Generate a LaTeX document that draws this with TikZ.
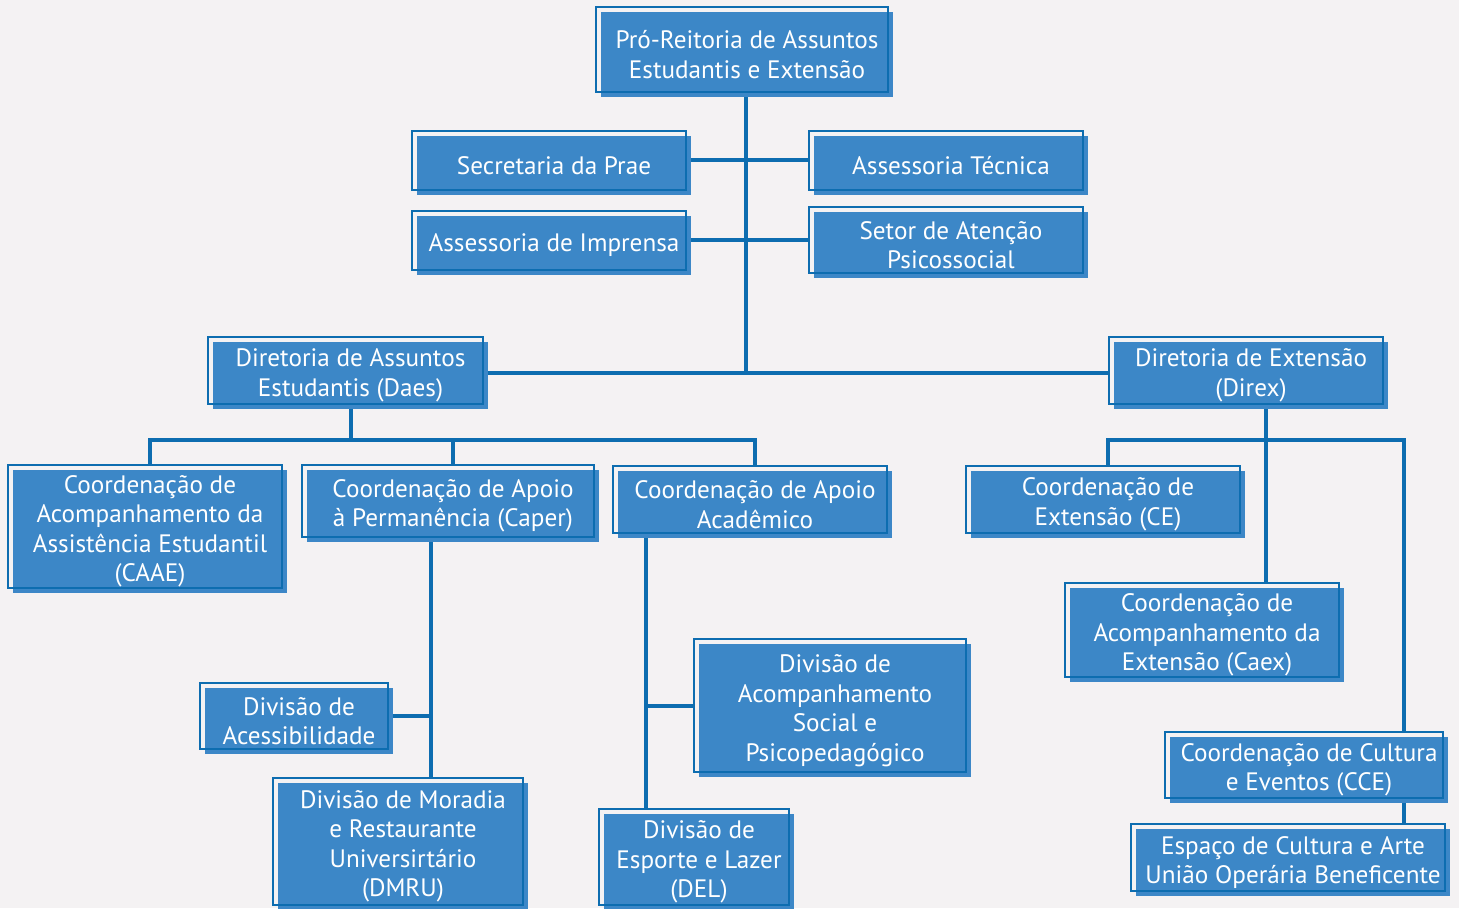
\documentclass[tikz,border=0pt]{standalone}
\usepackage{fontspec}
\setmainfont{PT Sans}
\usetikzlibrary{backgrounds}

\definecolor{pagebg}{HTML}{F4F2F3}
\definecolor{boxfill}{HTML}{3C87C7}
\definecolor{boxline}{HTML}{0D6DB0}

\begin{document}
\begin{tikzpicture}[x=1pt,y=-1pt]

\tikzset{
  orgbox/.style={fill=boxfill, text=white, inner sep=0pt, align=center,
    minimum width=274pt, minimum height=67pt,
    font=\fontsize{25.2}{29.5}\selectfont,
    postaction={draw=boxline, line width=1.8pt, fill=none,
      transform canvas={shift={(-5pt,5pt)}}}},
  link/.style={draw=boxline, line width=3.8pt}
}

\useasboundingbox (0,0) rectangle (1459,908);

\node[orgbox, minimum width=292pt, minimum height=85pt] (prae) at (747,54.5) {Pró-Reitoria de Assuntos\\Estudantis e Extensão};
\node[orgbox, minimum height=59pt] (sec) at (554,165.5) {Secretaria da Prae};
\node[orgbox, minimum height=59pt] (astec) at (951,165.5) {Assessoria Técnica};
\node[orgbox, minimum height=59pt] (imp) at (554,245.5) {Assessoria de Imprensa};
\node[orgbox, minimum height=66pt] (setor) at (951,245) {Setor de Atenção\\Psicossocial};

\node[orgbox, minimum width=275pt] (daes) at (350.5,375.5) {Diretoria de Assuntos\\Estudantis (Daes)};
\node[orgbox] (direx) at (1251,375.5) {Diretoria de Extensão\\(Direx)};

\node[orgbox, minimum height=123pt] (caae) at (150,531.5) {Coordenação de\\Acompanhamento da\\Assistência Estudantil\\(CAAE)};
\node[orgbox, minimum width=292pt, minimum height=72pt] (caper) at (453,506) {Coordenação de Apoio\\à Permanência (Caper)};
\node[orgbox] (acad) at (755,504.5) {Coordenação de Apoio\\Acadêmico};
\node[orgbox] (ce) at (1108,504.5) {Coordenação de\\Extensão (CE)};
\node[orgbox, minimum height=94pt] (caex) at (1207,635) {Coordenação de\\Acompanhamento da\\Extensão (Caex)};

\node[orgbox, minimum width=188pt, minimum height=66pt] (acess) at (299,721) {Divisão de\\Acessibilidade};
\node[orgbox, minimum width=250pt, minimum height=127pt] (dmru) at (403,846.5) {Divisão de Moradia\\e Restaurante\\Universirtário\\(DMRU)};
\node[orgbox, minimum width=272pt, minimum height=133pt] (dasp) at (835,710.5) {Divisão de\\Acompanhamento\\Social e\\Psicopedagógico};
\node[orgbox, minimum width=190pt, minimum height=96pt] (del) at (699,862) {Divisão de\\Esporte e Lazer\\(DEL)};
\node[orgbox, minimum width=278pt, minimum height=66pt] (cce) at (1309,770) {Coordenação de Cultura\\e Eventos (CCE)};
\node[orgbox, minimum width=314pt, minimum height=67pt] (esp) at (1293,862.5) {Espaço de Cultura e Arte\\União Operária Beneficente};

\coordinate (hub) at (746,373);
\coordinate (secrow) at (746,160);
\coordinate (improw) at (746,240);
\coordinate (daesbus) at (351,440);
\coordinate (caperx) at (431,716);
\coordinate (acadx) at (646,706);
\coordinate (direxbus) at (1266,440);
\coordinate (ccex) at (1404,440);

\begin{scope}[on background layer]
\fill[pagebg] (0,0) rectangle (1459,908);
\draw[link] (hub |- prae) -- (hub);
\draw[link, shorten >=5pt] (sec |- secrow) -- (astec.west |- secrow);
\draw[link, shorten >=5pt] (imp |- improw) -- (setor.west |- improw);
\draw[link, shorten >=5pt] (daes |- hub) -- (direx.west |- hub);
\draw[link] (daesbus |- daes) -- (daesbus);
\draw[link, shorten <=5pt, shorten >=5pt] (caae.north) |- (daesbus) -| (acad.north);
\draw[link, shorten >=5pt] (caper.north |- daesbus) -- (caper.north);
\draw[link, shorten >=5pt] (caperx |- caper) -- (caperx |- dmru.north);
\draw[link] (acess |- caperx) -- (caperx);
\draw[link, shorten >=5pt] (acadx |- acad) -- (acadx |- del.north);
\draw[link, shorten >=5pt] (acadx) -- (dasp.west |- acadx);
\draw[link, shorten >=5pt] (direxbus |- direx) -- (direxbus |- caex.north);
\draw[link, shorten <=5pt, shorten >=5pt] (ce.north) |- (ccex) -- (ccex |- cce.north);
\draw[link, shorten >=5pt] (ccex |- cce) -- (ccex |- esp.north);
\end{scope}

\end{tikzpicture}
\end{document}
